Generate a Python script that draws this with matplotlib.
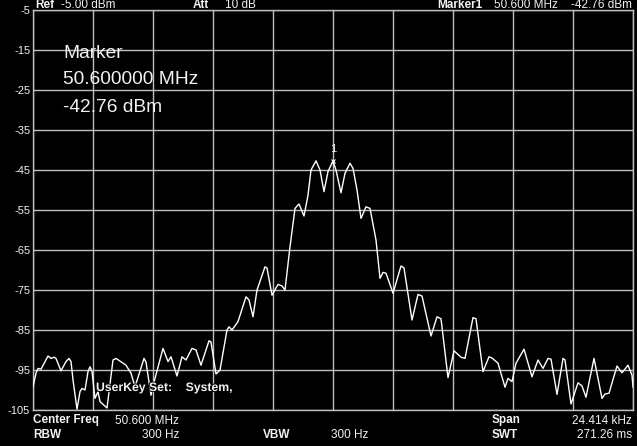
import matplotlib
matplotlib.use('Agg')
from matplotlib import pyplot as plt
import matplotlib.patheffects as pe

# trace: sweep point index (0..600) and level in dBm
trace_pt = [0, 3, 5, 8, 12, 15, 18, 21, 23, 28, 33, 36, 38, 40, 44, 47, 49, 52, 55, 57,
            59, 62, 65, 67, 74, 80, 83, 90, 93, 98, 102, 111, 113, 118, 122, 130, 135, 138, 144, 149,
            153, 159, 163, 168, 176, 178, 183, 187, 194, 196, 199, 205, 213, 216, 220, 224, 232, 234, 239, 245,
            249, 252, 257, 262, 266, 271, 275, 278, 283, 287, 291, 295, 300, 303, 308, 312, 317, 320, 324, 328,
            333, 337, 343, 347, 350, 353, 360, 368, 371, 379, 385, 389, 398, 404, 408, 415, 421, 428, 432, 440,
            443, 450, 456, 459, 465, 472, 475, 479, 483, 491, 499, 505, 510, 515, 518, 524, 530, 532, 538, 545,
            549, 553, 561, 569, 572, 576, 584, 589, 595, 599, 600]
trace_dbm = [-99.2, -95.8, -94.6, -94.8, -92.9, -91.5, -92.1, -91.8, -92.1, -95.2,
             -92.9, -92.1, -92.9, -97.5, -104.8, -100.4, -99.6, -100.0, -95.4, -94.2,
             -95.4, -102.1, -100.4, -102.9, -104.5, -92.5, -92.1, -93.3, -93.8, -95.8,
             -99.2, -92.1, -93.0, -101.3, -97.1, -89.6, -92.9, -91.7, -96.5, -91.7,
             -92.5, -89.6, -90.0, -93.8, -87.7, -88.0, -96.0, -95.0, -85.0, -84.2,
             -85.0, -82.9, -76.7, -77.5, -81.7, -75.0, -69.2, -69.5, -76.3, -73.6,
             -74.0, -75.0, -64.2, -54.6, -53.5, -56.5, -51.3, -45.0, -42.7, -45.0,
             -50.4, -45.4, -42.76, -45.0, -50.7, -45.8, -43.3, -44.6, -50.0, -57.1,
             -54.2, -54.6, -62.5, -72.1, -70.6, -70.8, -75.8, -69.0, -69.5, -82.5,
             -76.1, -76.5, -86.5, -81.7, -82.2, -96.9, -90.2, -91.8, -92.1, -81.9,
             -82.2, -95.4, -91.7, -92.0, -93.3, -99.3, -97.1, -97.9, -93.3, -89.8,
             -96.7, -92.5, -94.6, -92.1, -92.3, -101.1, -92.1, -92.5, -103.5, -98.2,
             -99.0, -101.8, -92.1, -102.1, -101.0, -100.8, -94.0, -95.7, -93.8, -96.3,
             -99.3]

y_ticks = [-5, -15, -25, -35, -45, -55, -65, -75, -85, -95, -105]
marker_pt = 300
marker_dbm = -42.76

W, H = 637, 446
fig = plt.figure(figsize=(W / 100, H / 100), dpi=100, facecolor='black')
ax = fig.add_axes([33 / W, 1 - 410 / H, 600 / W, 400 / H], facecolor='black')

grid_c = '#c0c0c0'
txt_c = '#f2f2f2'
font = 'Liberation Sans'
fs = 8.5

ax.plot(trace_pt, trace_dbm, color='white', lw=1.0, zorder=3)
ax.plot([marker_pt], [marker_dbm], marker='x', ms=3, mew=0.8, color='white', zorder=4)
ax.text(marker_pt, marker_dbm + 1.8, '1', color=txt_c, fontsize=8, family=font,
        ha='center', va='bottom', zorder=4)

ax.set_xlim(0, 600)
ax.set_ylim(-105, -5)
ax.set_xticks(range(0, 601, 60))
ax.set_yticks(y_ticks)
ax.set_xticklabels([])
ax.set_yticklabels([str(v) for v in y_ticks], color=txt_c, fontsize=8, family=font)
ax.tick_params(length=0, pad=2)
ax.grid(True, color=grid_c, lw=1.0)
for s in ax.spines.values():
    s.set_color(grid_c)
    s.set_linewidth(1.0)

# big marker readout
for i, s in enumerate(['Marker', '50.600000 MHz', '-42.76 dBm']):
    ax.text(30 / 600, 0.8925 - i * 0.0675, s, transform=ax.transAxes, color=txt_c,
            fontsize=13.8, family=font, ha='left', va='center', zorder=5)

ax.text(63, -99.5, 'UserKey Set:    System,', color=txt_c, fontsize=8.8, family=font,
        weight='bold', ha='left', va='center', zorder=5,
        path_effects=[pe.withStroke(linewidth=1.5, foreground='black')])

def ftxt(x, y, s, bold=False, ha='left'):
    # y is the text baseline in pixels from the top
    fig.text(x / W, 1 - y / H, s, color=txt_c, fontsize=fs, family=font,
             weight='bold' if bold else 'normal', ha=ha, va='baseline')

# header line
ftxt(35, 8.5, 'Ref', True)
ftxt(61, 8.5, '-5.00 dBm')
ftxt(193, 8.5, 'Att', True)
ftxt(225, 8.5, '10 dB')
ftxt(437, 8.5, 'Marker1', True)
ftxt(558, 8.5, '50.600 MHz', ha='right')
ftxt(632, 8.5, '-42.76 dBm', ha='right')

# footer lines
ftxt(33, 423.5, 'Center Freq', True)
ftxt(115, 423.5, '50.600 MHz')
ftxt(492, 423.5, 'Span', True)
ftxt(632, 423.5, '24.414 kHz', ha='right')
ftxt(33, 438.5, 'RBW', True)
ftxt(179, 438.5, '300 Hz', ha='right')
ftxt(263, 438.5, 'VBW', True)
ftxt(368, 438.5, '300 Hz', ha='right')
ftxt(492, 438.5, 'SWT', True)
ftxt(632, 438.5, '271.26 ms', ha='right')

fig.savefig('out.png', dpi=100, facecolor='black')
